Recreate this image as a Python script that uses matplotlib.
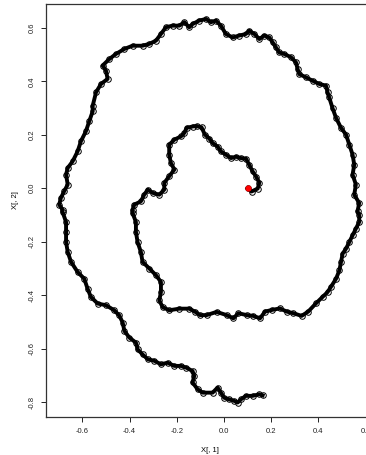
import matplotlib
matplotlib.use('Agg')
import matplotlib.pyplot as plt
from matplotlib import rcParams

rcParams['font.family'] = ['Liberation Sans', 'DejaVu Sans']
rcParams['axes.unicode_minus'] = False

# path of the walk (X[, 1], X[, 2])
walk_x = [0.100, 0.117, 0.143, 0.150, 0.136, 0.121, 0.107, 0.093, 0.072, 0.051,
          0.030, 0.008, -0.013, -0.027, -0.048, -0.062, -0.081, -0.095, -0.116, -0.133,
          -0.158, -0.168, -0.182, -0.210, -0.232, -0.232, -0.225, -0.210, -0.232, -0.253,
          -0.253, -0.274, -0.302, -0.323, -0.338, -0.352, -0.380, -0.387, -0.387, -0.373,
          -0.373, -0.366, -0.352, -0.345, -0.316, -0.288, -0.267, -0.267, -0.274, -0.260,
          -0.232, -0.189, -0.147, -0.123, -0.102, -0.073, -0.031, 0.011, 0.040, 0.061,
          0.096, 0.124, 0.153, 0.174, 0.202, 0.237, 0.266, 0.294, 0.329, 0.357,
          0.390, 0.418, 0.439, 0.453, 0.475, 0.489, 0.496, 0.503, 0.517, 0.531,
          0.545, 0.559, 0.573, 0.573, 0.566, 0.573, 0.552, 0.559, 0.545, 0.552,
          0.545, 0.531, 0.517, 0.496, 0.475, 0.460, 0.446, 0.439, 0.432, 0.404,
          0.376, 0.347, 0.319, 0.312, 0.305, 0.284, 0.256, 0.234, 0.220, 0.206,
          0.192, 0.171, 0.150, 0.129, 0.107, 0.093, 0.065, 0.037, 0.008, -0.013,
          -0.034, -0.055, -0.076, -0.105, -0.133, -0.147, -0.168, -0.189, -0.218, -0.246,
          -0.267, -0.288, -0.316, -0.345, -0.387, -0.422, -0.458, -0.486, -0.514, -0.500,
          -0.493, -0.521, -0.542, -0.556, -0.556, -0.571, -0.585, -0.606, -0.620, -0.641,
          -0.662, -0.669, -0.662, -0.677, -0.691, -0.698, -0.684, -0.684, -0.669, -0.669,
          -0.669, -0.662, -0.648, -0.620, -0.592, -0.578, -0.564, -0.535, -0.500, -0.465,
          -0.444, -0.429, -0.422, -0.401, -0.373, -0.366, -0.345, -0.323, -0.295, -0.267,
          -0.239, -0.210, -0.182, -0.161, -0.133, -0.126, -0.133, -0.112, -0.090, -0.048,
          -0.027, -0.013, 0.001, 0.023, 0.044, 0.058, 0.072, 0.093, 0.121, 0.150,
          0.164]
walk_y = [0.000, -0.012, -0.001, 0.021, 0.044, 0.064, 0.088, 0.111, 0.113, 0.118,
          0.113, 0.126, 0.138, 0.156, 0.169, 0.186, 0.201, 0.228, 0.233, 0.231,
          0.226, 0.207, 0.194, 0.182, 0.163, 0.126, 0.095, 0.070, 0.045, 0.020,
          -0.005, -0.024, -0.017, -0.005, -0.024, -0.049, -0.061, -0.080, -0.093, -0.126,
          -0.163, -0.201, -0.238, -0.275, -0.300, -0.325, -0.350, -0.388, -0.419, -0.444,
          -0.456, -0.450, -0.450, -0.461, -0.474, -0.474, -0.462, -0.474, -0.486, -0.467,
          -0.474, -0.477, -0.486, -0.461, -0.455, -0.449, -0.461, -0.467, -0.477, -0.461,
          -0.430, -0.406, -0.388, -0.369, -0.338, -0.307, -0.275, -0.244, -0.226, -0.201,
          -0.176, -0.151, -0.126, -0.101, -0.086, -0.055, -0.024, 0.014, 0.051, 0.088,
          0.126, 0.163, 0.201, 0.226, 0.263, 0.300, 0.340, 0.359, 0.384, 0.390,
          0.402, 0.415, 0.427, 0.446, 0.471, 0.490, 0.502, 0.508, 0.527, 0.546,
          0.564, 0.571, 0.558, 0.577, 0.589, 0.577, 0.571, 0.564, 0.577, 0.608,
          0.627, 0.621, 0.633, 0.627, 0.614, 0.602, 0.621, 0.608, 0.608, 0.602,
          0.577, 0.552, 0.540, 0.533, 0.533, 0.521, 0.502, 0.483, 0.459, 0.440,
          0.409, 0.390, 0.359, 0.309, 0.288, 0.250, 0.213, 0.176, 0.138, 0.101,
          0.076, 0.051, 0.014, -0.011, -0.036, -0.061, -0.080, -0.088, -0.126, -0.163,
          -0.201, -0.238, -0.275, -0.313, -0.338, -0.375, -0.406, -0.431, -0.437, -0.456,
          -0.475, -0.502, -0.533, -0.558, -0.577, -0.602, -0.621, -0.639, -0.645, -0.658,
          -0.652, -0.664, -0.664, -0.670, -0.683, -0.702, -0.726, -0.751, -0.764, -0.764,
          -0.745, -0.764, -0.783, -0.789, -0.795, -0.801, -0.789, -0.776, -0.776, -0.770,
          -0.774]

start_x = [0.100]
start_y = [0.000]

x_ticks = [-0.6, -0.4, -0.2, 0.0, 0.2, 0.4, 0.6]
y_ticks = [-0.8, -0.6, -0.4, -0.2, 0.0, 0.2, 0.4, 0.6]

fig = plt.figure(figsize=(3.66, 4.55), dpi=100)
ax = fig.add_axes([46 / 366, 38 / 455, 325.7 / 366, 413 / 455])

ax.plot(walk_x, walk_y, '-', color='black', lw=2.8, solid_joinstyle='round')
ax.plot(walk_x, walk_y, 'o', mfc='none', mec='black', ms=4, mew=0.7)
ax.plot(start_x, start_y, 'o', color='red', ms=3.5)

ax.set_xlim(-0.754, 0.626)
ax.set_ylim(-0.855, 0.689)
ax.set_xticks(x_ticks)
ax.set_yticks(y_ticks)
ax.set_xticklabels(['%.1f' % v for v in x_ticks])
ax.set_yticklabels(['%.1f' % v for v in y_ticks], rotation=90, va='center')
ax.tick_params(direction='out', length=3.6, width=0.7, labelsize=5.5, pad=4,
               colors='#222222')
for s in ax.spines.values():
    s.set_linewidth(0.9)
    s.set_color('#333333')

ax.set_xlabel('X[, 1]', fontsize=5.5)
ax.set_ylabel('X[, 2]', fontsize=5.5)
ax.xaxis.set_label_coords(0.5035, -0.072)
ax.yaxis.set_label_coords(-0.083, 0.525)

plt.savefig('out.png', dpi=100)
plt.close()
